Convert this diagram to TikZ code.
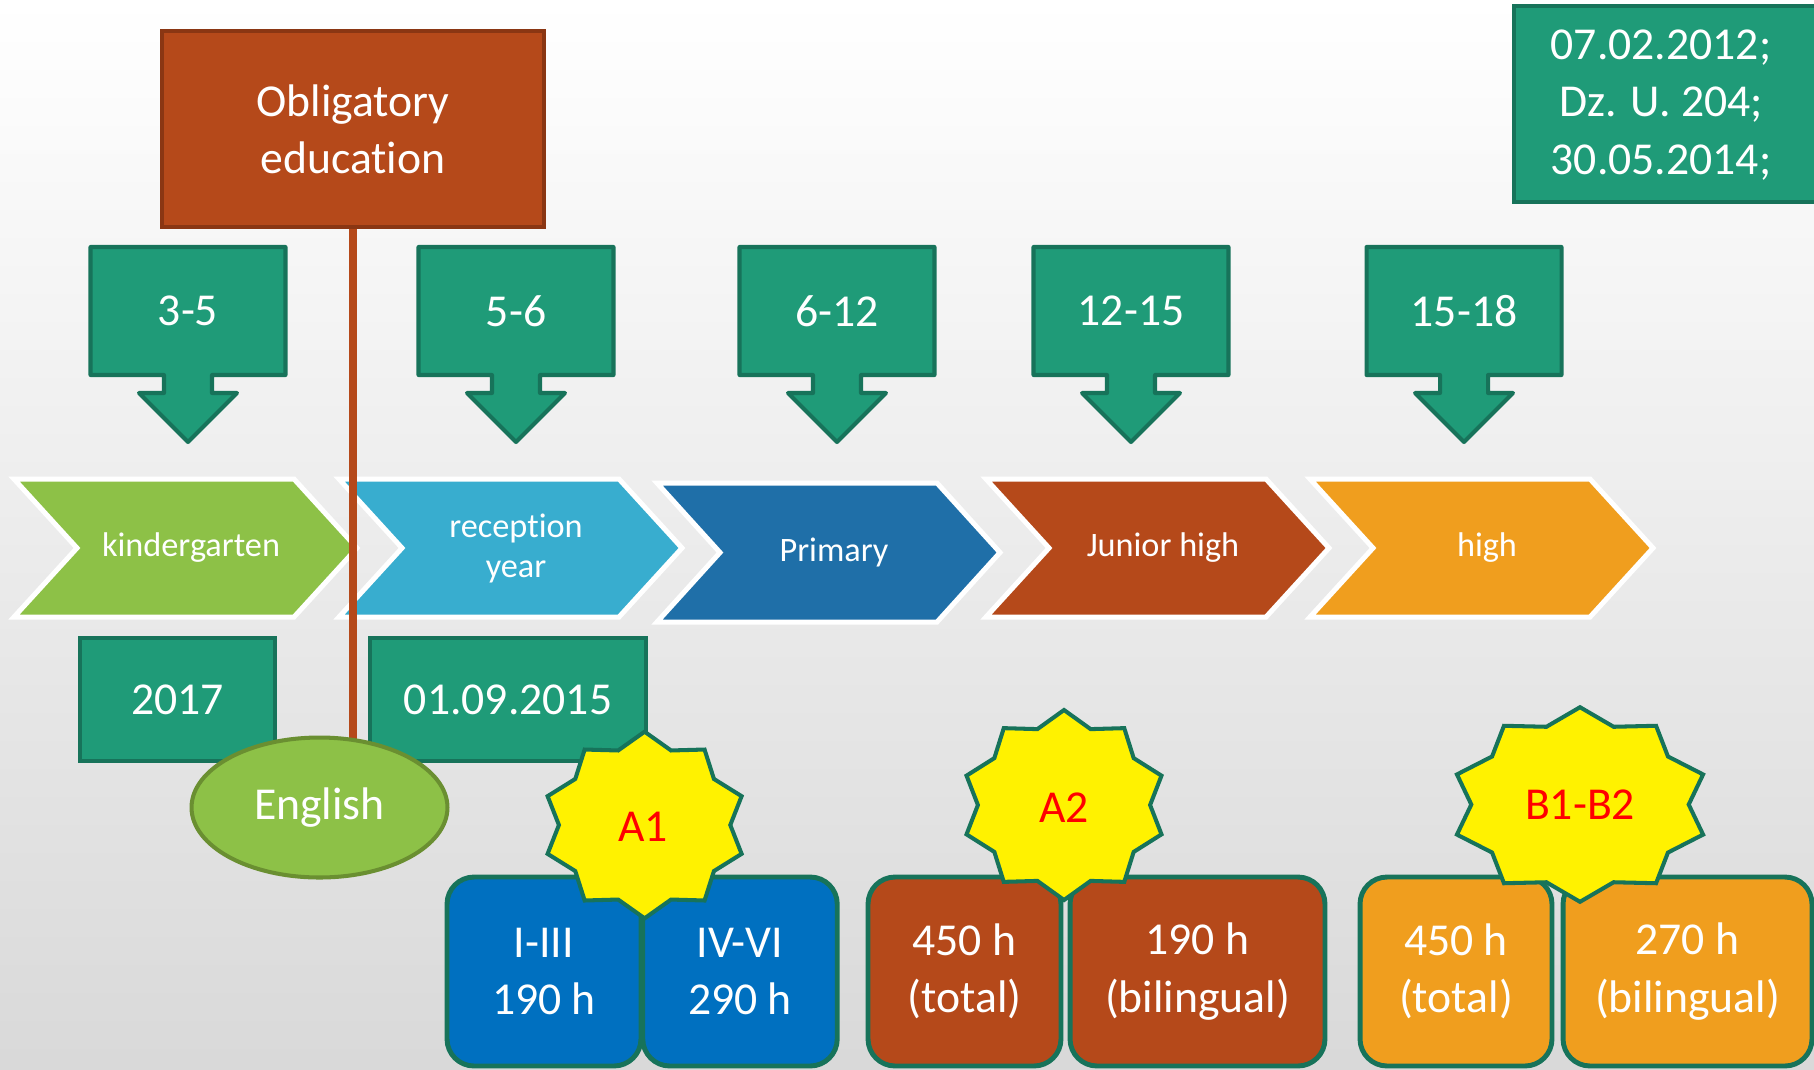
\documentclass[tikz,border=0pt]{standalone}
\usepackage{fontspec}
\setmainfont{Carlito}[Ligatures=NoCommon]
\usepackage{tikz}
\usetikzlibrary{shapes.geometric}
\definecolor{Teal}{HTML}{1F9B78}
\definecolor{TealEdge}{HTML}{17735A}
\definecolor{Rust}{HTML}{B5491A}
\definecolor{RustEdge}{HTML}{8A3613}
\definecolor{Leaf}{HTML}{8DC147}
\definecolor{LeafEdge}{HTML}{6A8F31}
\definecolor{Sky}{HTML}{38ADCF}
\definecolor{Ocean}{HTML}{1F6FA8}
\definecolor{Amber}{HTML}{F09E1E}
\definecolor{Cobalt}{HTML}{0070C0}

\begin{document}
\begin{tikzpicture}[x=0.02cm,y=-0.02cm,
  big/.style={font=\fontsize{26}{32.5}\selectfont,text=white,align=center},
  chev/.style={font=\fontsize{19.5}{22.8}\selectfont,text=white,align=center},
  tealbox/.style={big,fill=Teal,draw=TealEdge,line width=2.3pt,inner sep=0pt},
  hourbox/.style={big,draw=TealEdge,line width=2.8pt,rounded corners=0.54cm,
    minimum height=3.78cm,inner sep=0pt},
  level/.style={font=\fontsize{26}{32.5}\selectfont,text=red}]
  \useasboundingbox (0,0) rectangle (1814,1069);
  \clip (0,0) rectangle (1814,1069);
  \shade[top color=white,middle color=black!2,bottom color=black!15] (0,0) rectangle (1814,1069);
  % school stages
  \foreach \L/\T/\B/\col/\name/\lab in {
    14/479/617/Leaf/kg/kindergarten,
    339/479/617/Sky/rec/{reception\\year},
    657/483/622/Ocean/prim/Primary,
    986/479/617/Rust/jun/Junior high,
    1310/479/617/Amber/hi/high} {
    \filldraw[fill=\col,draw=white,line width=0.1cm]
      (\L,\T) -- (\L+280,\T) -- (\L+343,{(\T+\B)/2}) -- (\L+280,\B)
      -- (\L,\B) -- (\L+63,{(\T+\B)/2}) -- cycle;
    \node[chev] (\name) at (\L+177,{(\T+\B)/2}) {\lab};
  }
  % ages
  \foreach \cx/\name/\lab in {188/ageA/3-5, 516/ageB/5-6, 837/ageC/6-12,
    1131/ageD/12-15, 1464/ageE/15-18} {
    \filldraw[fill=Teal,draw=TealEdge,line width=2.3pt,line join=round]
      (\cx-97.5,247) -- (\cx+97.5,247) -- (\cx+97.5,375) -- (\cx+24,375)
      -- (\cx+24,393) -- (\cx+49,393) -- (\cx,442) -- (\cx-49,393)
      -- (\cx-24,393) -- (\cx-24,375) -- (\cx-97.5,375) -- cycle;
    \node[big] (\name) at (\cx,311) {\lab};
  }
  \node[big,fill=Rust,draw=RustEdge,line width=2.3pt,minimum width=7.64cm,
    minimum height=3.92cm,inner sep=0pt] (oblig) at (353,129) {Obligatory\\education};
  \coordinate (engc) at (319.5,807.5);
  \draw[Rust,line width=0.16cm] (oblig.south) -- (oblig.south |- engc);
  \filldraw[fill=Teal,draw=TealEdge,line width=2.3pt] (1514,6) rectangle (1830,202);
  \node[big] (dates) at (1661,105) {07.02.2012;\\Dz. U. 204;\\30.05.2014;};
  \node[tealbox,minimum width=3.9cm,minimum height=2.46cm] (yrA) at (177.5,699.5) {2017};
  \node[tealbox,minimum width=5.52cm,minimum height=2.46cm] (yrB) at (508,699.5) {01.09.2015};
  \node[ellipse,big,fill=Leaf,draw=LeafEdge,line width=2.3pt,minimum width=5.12cm,
    minimum height=2.8cm,inner sep=0pt] (english) at (engc) {English};
  % hours
  \foreach \cx/\w/\col/\name/\lab in {
    544/3.88/Cobalt/hA/{I-III\\190 h},
    740/3.89/Cobalt/hB/{IV-VI\\290 h},
    964.5/3.86/Rust/hC/{450 h\\(total)},
    1197.5/5.1/Rust/hD/{190 h\\(bilingual)},
    1456/3.84/Amber/hE/{450 h\\(total)},
    1687.5/4.98/Amber/hF/{270 h\\(bilingual)}} {
    \node[hourbox,fill=\col,minimum width=\w cm] (\name) at (\cx,971.5) {\lab};
  }
  % levels
  \foreach \cx/\cy/\rx/\ry in {644.6/825/102/93.3, 1064/805/102.5/95, 1580/804.5/129.4/97.3} {
    \filldraw[fill=yellow,draw=TealEdge,line width=2.3pt]
      (\cx,\cy-\ry) \foreach \k in {1,...,19} {
        -- ({\cx+\rx*(1-0.16*mod(\k,2))*sin(18*\k)},{\cy-\ry*(1-0.16*mod(\k,2))*cos(18*\k)})
      } -- cycle;
  }
  \node[level] (lvA) at (643,827) {A1};
  \node[level] (lvB) at (1064,808) {A2};
  \node[level] (lvC) at (1580,805) {B1-B2};
\end{tikzpicture}
\end{document}
